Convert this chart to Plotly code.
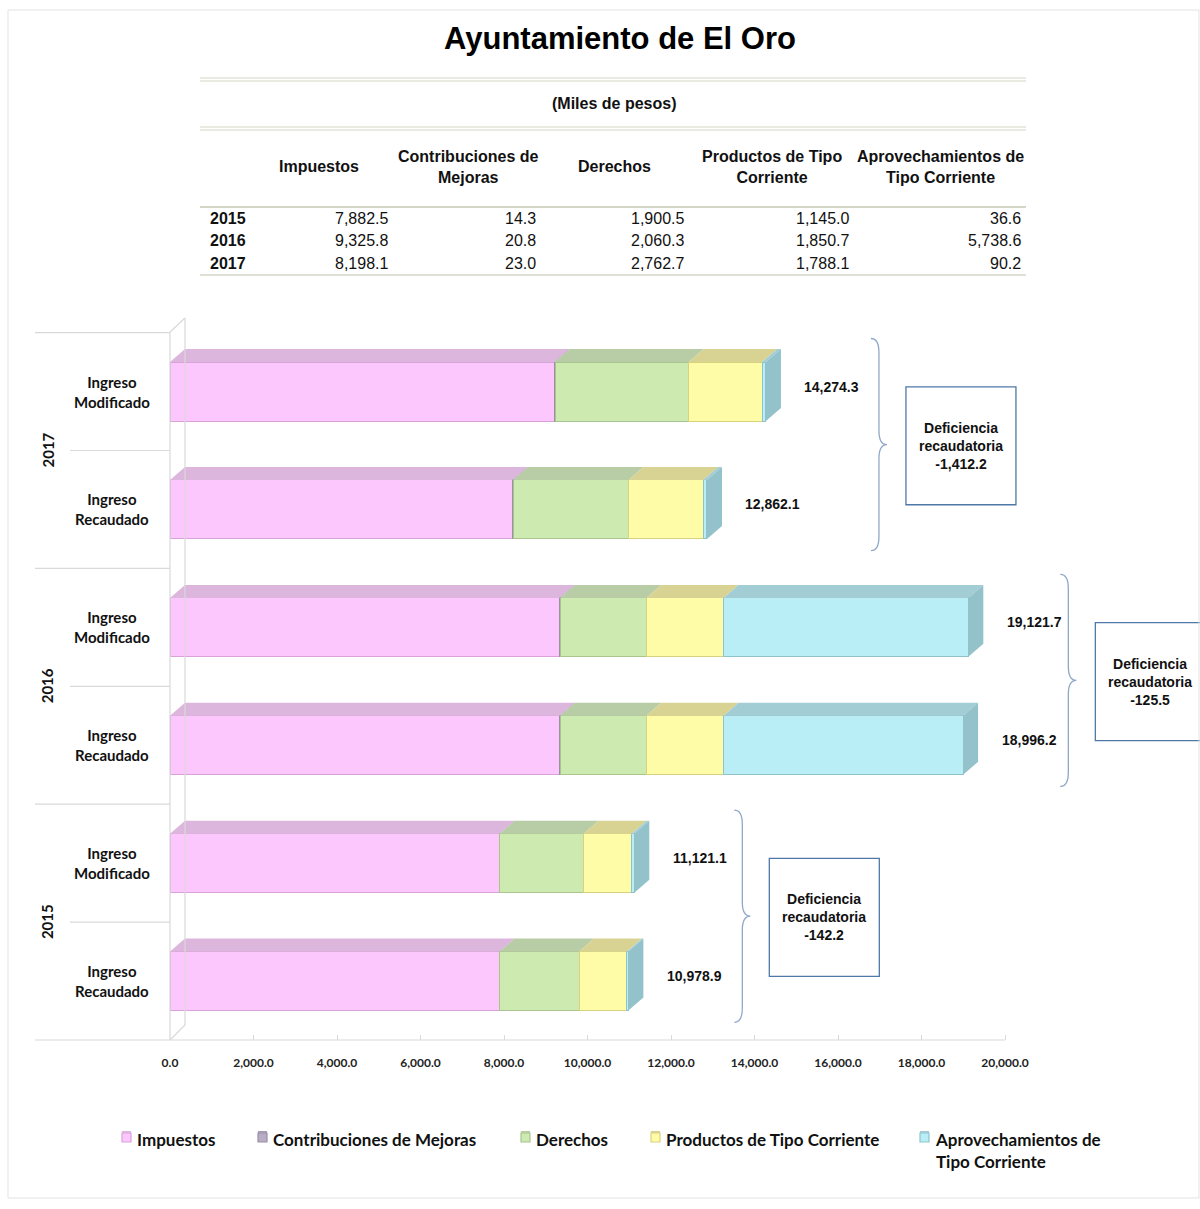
import plotly.graph_objects as go

# ---------------- data ----------------
years = ["2017", "2016", "2015"]                      # top to bottom in chart
row_kinds = ["Ingreso Modificado", "Ingreso Recaudado"]
concepts = ["Impuestos", "Contribuciones de Mejoras", "Derechos",
            "Productos de Tipo Corriente", "Aprovechamientos de Tipo Corriente"]
legend_names = ["Impuestos", "Contribuciones de Mejoras", "Derechos",
                "Productos de Tipo Corriente", "Aprovechamientos de<br>Tipo Corriente"]
table_headers = ["Impuestos", "Contribuciones de<br>Mejoras", "Derechos",
                 "Productos de Tipo<br>Corriente", "Aprovechamientos de<br>Tipo Corriente"]

# Ingreso Recaudado (table), order 2015, 2016, 2017
table_years = ["2015", "2016", "2017"]
rec_impuestos = [7882.5, 9325.8, 8198.1]
rec_contrib = [14.3, 20.8, 23.0]
rec_derechos = [1900.5, 2060.3, 2762.7]
rec_productos = [1145.0, 1850.7, 1788.1]
rec_aprov = [36.6, 5738.6, 90.2]

# Ingreso Modificado, order 2015, 2016, 2017
mod_impuestos = [7882.5, 9325.8, 9200.0]
mod_contrib = [14.3, 20.8, 23.0]
mod_derechos = [2010.0, 2060.3, 3200.0]
mod_productos = [1150.0, 1850.7, 1760.0]
mod_aprov = [64.3, 5864.1, 91.3]

x_ticks = [0, 2000, 4000, 6000, 8000, 10000, 12000, 14000, 16000, 18000, 20000]

# ---------------- styling / geometry ----------------
W, H = 1200, 1209
L, T, B = 170, 332, 169
PLOT_H = H - T - B
PX_PER_UNIT = 835 / 20000.0
XMAX = (W - L) / PX_PER_UNIT

def pxx(px):
    return (px - L) / (W - L)

def pyy(py):
    return (H - B - py) / PLOT_H

def ux(px):  # pixel length -> data units
    return px / PX_PER_UNIT

front = ["#FCC7FC", "#B9ADC6", "#CDEAB0", "#FFFCA8", "#B9EEF6"]
topc = ["#DDB6DD", "#A79CB3", "#B8CCA5", "#D9D393", "#A2CDD5"]
edge = ["#D9A3D9", "#9A8FA6", "#A9C48F", "#D8D27F", "#8FC3CC"]
side_color = "#93C2CB"

NARROW = "Liberation Sans Narrow, Arial Narrow, Liberation Sans, Arial"
CAL = "Lato, Carlito, Calibri, sans-serif"

rec_by_concept = [rec_impuestos, rec_contrib, rec_derechos, rec_productos, rec_aprov]
mod_by_concept = [mod_impuestos, mod_contrib, mod_derechos, mod_productos, mod_aprov]

rows = []  # (category id, year, kind, values list)
for y in years:
    i = table_years.index(y)
    rows.append((y + " " + row_kinds[0], y, row_kinds[0], [c[i] for c in mod_by_concept]))
    rows.append((y + " " + row_kinds[1], y, row_kinds[1], [c[i] for c in rec_by_concept]))
cats = [r[0] for r in rows]

fig = go.Figure()
for k, name in enumerate(concepts):
    fig.add_trace(go.Bar(
        y=cats, x=[r[3][k] for r in rows], orientation="h", name=name,
        marker=dict(color=front[k], line=dict(color=edge[k], width=1)),
        width=0.5, hoverinfo="x+name", showlegend=False))

shapes = []
annotations = []


def ann(**kw):
    kw.setdefault("showarrow", False)
    kw.setdefault("xanchor", "center")
    kw.setdefault("yanchor", "middle")
    annotations.append(kw)


BW = 0.5
DX = ux(15)
DY = 0.11
for ri, r in enumerate(rows):
    acc = 0.0
    top = ri - BW / 2
    for k, v in enumerate(r[3]):
        a, b = acc, acc + v
        acc = b
        path = f"M {a},{top} L {b},{top} L {b+DX},{top-DY} L {a+DX},{top-DY} Z"
        shapes.append(dict(type="path", xref="x", yref="y", path=path,
                           fillcolor=topc[k], line=dict(width=0), layer="above"))
    bot = ri + BW / 2
    path = f"M {acc},{top} L {acc+DX},{top-DY} L {acc+DX},{bot-DY} L {acc},{bot} Z"
    shapes.append(dict(type="path", xref="x", yref="y", path=path,
                       fillcolor=side_color, line=dict(width=0), layer="above"))
    # total label
    ann(x=acc, y=r[0], xref="x", yref="y", text=f"{acc:,.1f}", xshift=66, yshift=5,
        font=dict(family=NARROW, size=14, color="#111", weight="bold"))
    ann(x=pxx(112), y=r[0], xref="paper", yref="y", text=r[2].replace(" ", "<br>"),
        font=dict(family=CAL, size=15, color="#111", weight="bold"))

# year labels, braces and deficiency boxes
brace_offsets_px = [105, 92, 100]
for gi, y in enumerate(years):
    i0 = 2 * gi
    mod_total = sum(rows[i0][3])
    rec_total = sum(rows[i0 + 1][3])
    ann(x=pxx(47), y=i0 + 0.5, xref="paper", yref="y", text=y, textangle=-90,
        font=dict(family=CAL, size=15, color="#111", weight="bold"))
    xb = max(mod_total, rec_total) + ux(brace_offsets_px[gi])
    w = ux(16)
    y0, y1 = i0 - 0.45, i0 + 1.35
    ym = (y0 + y1) / 2
    c = 0.12
    path = (f"M {xb},{y0} Q {xb+w/2},{y0} {xb+w/2},{y0+c} L {xb+w/2},{ym-c} "
            f"Q {xb+w/2},{ym} {xb+w},{ym} Q {xb+w/2},{ym} {xb+w/2},{ym+c} "
            f"L {xb+w/2},{y1-c} Q {xb+w/2},{y1} {xb},{y1}")
    shapes.append(dict(type="path", xref="x", yref="y", path=path,
                       line=dict(color="#8FA8C8", width=1.3)))
    bx0, bx1 = xb + ux(35), xb + ux(145)
    shapes.append(dict(type="rect", xref="x", yref="y", x0=bx0, x1=bx1,
                       y0=i0 - 0.04, y1=i0 + 0.96,
                       line=dict(color="#4F78A8", width=1.3), fillcolor="white"))
    ann(x=(bx0 + bx1) / 2, y=i0 + 0.46, xref="x", yref="y",
        text=f"Deficiencia<br>recaudatoria<br>{rec_total - mod_total:,.1f}",
        font=dict(family=NARROW, size=14, color="#111", weight="bold"))

grey = "#D9D9D9"
# axis lines / 3D wall
shapes += [
    dict(type="line", xref="paper", yref="paper", x0=pxx(35), x1=pxx(1005), y0=0, y1=0,
         line=dict(color=grey, width=1.2)),
    dict(type="line", xref="paper", yref="paper", x0=0, x1=0, y0=0, y1=1,
         line=dict(color=grey, width=1.2)),
    dict(type="line", xref="paper", yref="paper", x0=pxx(185), x1=pxx(185), y0=pyy(1025), y1=pyy(318),
         line=dict(color=grey, width=1.2)),
    dict(type="line", xref="paper", yref="paper", x0=0, x1=pxx(185), y0=1, y1=pyy(318),
         line=dict(color=grey, width=1.2)),
    dict(type="line", xref="paper", yref="paper", x0=0, x1=pxx(185), y0=0, y1=pyy(1025),
         line=dict(color=grey, width=1.2)),
]
for ri in range(len(rows)):
    xs = pxx(35) if ri % 2 == 0 else pxx(70)
    shapes.append(dict(type="line", xref="paper", yref="y", x0=xs, x1=0,
                       y0=ri - 0.5, y1=ri - 0.5, line=dict(color=grey, width=1.2)))

# figure border
shapes.append(dict(type="rect", xref="paper", yref="paper", x0=pxx(8), x1=pxx(1199),
                   y0=pyy(1198), y1=pyy(10), line=dict(color="#E3E3E3", width=1)))

# ---------------- legend (custom, bottom) ----------------
legend_x_px = [122, 258, 521, 651, 920]
legend_y_px = 1137
for k, name in enumerate(legend_names):
    sx = legend_x_px[k]
    shapes.append(dict(type="rect", xref="paper", yref="paper",
                       x0=pxx(sx), x1=pxx(sx + 9), y0=pyy(legend_y_px + 5), y1=pyy(legend_y_px - 4),
                       fillcolor=front[k], line=dict(color=edge[k], width=1.2)))
    shapes.append(dict(type="rect", xref="paper", yref="paper",
                       x0=pxx(sx), x1=pxx(sx + 9), y0=pyy(legend_y_px - 4), y1=pyy(legend_y_px - 6),
                       fillcolor=topc[k], line=dict(width=0)))
    ann(x=pxx(sx + 13), y=pyy(legend_y_px - 10), xref="paper", yref="paper", text=name,
        xanchor="left", yanchor="top", align="left",
        font=dict(family=CAL, size=17, color="#111", weight="bold"))

# ---------------- title and table ----------------
ann(x=pxx(620), y=pyy(38), xref="paper", yref="paper", text="Ayuntamiento de El Oro",
    font=dict(family="Liberation Sans, Arial", size=31, color="#000", weight="bold"))
ann(x=pxx(614), y=pyy(104), xref="paper", yref="paper", text="(Miles de pesos)",
    font=dict(family=NARROW, size=16, color="#111", weight="bold"))
col_centers = [319, 468, 614, 772, 940]
col_rights = [390, 538, 686, 851, 1023]
for h, cx in zip(table_headers, col_centers):
    ann(x=pxx(cx), y=pyy(167), xref="paper", yref="paper", text=h,
        font=dict(family=NARROW, size=16, color="#111", weight="bold"))
row_ys = [218, 240, 263]
for i, (ty, py) in enumerate(zip(table_years, row_ys)):
    ann(x=pxx(208), y=pyy(py), xref="paper", yref="paper", text=ty, xanchor="left",
        font=dict(family=NARROW, size=16, color="#111", weight="bold"))
    for k, cr in enumerate(col_rights):
        ann(x=pxx(cr), y=pyy(py), xref="paper", yref="paper",
            text=f"{rec_by_concept[k][i]:,.1f}", xanchor="right",
            font=dict(family=NARROW, size=16, color="#111"))
tline = "#D6D6C6"
for py, wdt in [(78, 1.2), (81, 1.2), (127, 1.2), (130, 1.2), (207, 2), (275, 1.5)]:
    shapes.append(dict(type="line", xref="paper", yref="paper", x0=pxx(200), x1=pxx(1026),
                       y0=pyy(py), y1=pyy(py), line=dict(color=tline, width=wdt)))

fig.update_layout(
    width=W, height=H,
    margin=dict(l=L, r=0, t=T, b=B),
    barmode="stack",
    paper_bgcolor="white", plot_bgcolor="white",
    showlegend=False,
    xaxis=dict(range=[0, XMAX], tickvals=x_ticks,
               ticktext=[f"{v:,.1f}" for v in x_ticks],
               tickfont=dict(family=CAL, size=12, color="#222", weight="bold"),
               showgrid=False, zeroline=False, showline=False,
               ticks="inside", ticklen=5, tickcolor=grey, ticklabelstandoff=14),
    yaxis=dict(type="category", categoryorder="array", categoryarray=cats,
               autorange="reversed", showticklabels=False, showgrid=False,
               zeroline=False, showline=False),
    shapes=shapes,
    annotations=annotations,
)

fig.write_html("out.html", config={"displayModeBar": False},
               post_script="document.body.style.margin='0';")
